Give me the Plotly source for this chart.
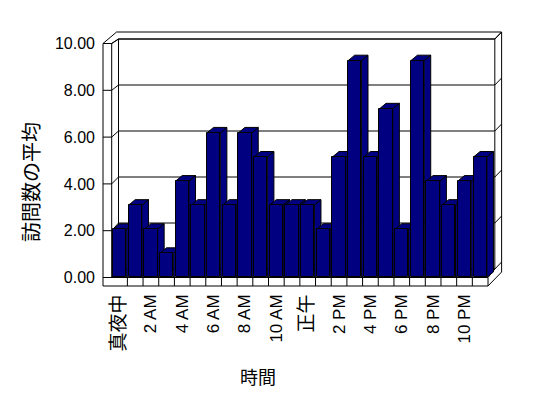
import plotly.graph_objects as go

# ---------------- data ----------------
hours = ["真夜中", "1 AM", "2 AM", "3 AM", "4 AM", "5 AM", "6 AM", "7 AM", "8 AM", "9 AM",
         "10 AM", "11 AM", "正午", "1 PM", "2 PM", "3 PM", "4 PM", "5 PM", "6 PM", "7 PM",
         "8 PM", "9 PM", "10 PM", "11 PM"]
visits = [2, 3, 2, 1, 4, 3, 6, 3, 6, 5, 3, 3, 3, 2, 5, 9, 5, 7, 2, 9, 4, 3, 4, 5]
y_tick_values = [0, 2, 4, 6, 8, 10]
y_tick_labels = ["0.00", "2.00", "4.00", "6.00", "8.00", "10.00"]
x_tick_step = 2
y_title = "訪問数の平均"
x_title = "時間"

# ---------------- geometry / style ----------------
W, H = 548, 398
OFF = 8                                      # page body margin (screen px -> figure px)
S_PL, S_PR, S_PT, S_PB = 96, 510, 24, 290   # plot area (screen px)
CAT_PX = 15.68                              # pixels per category
CAT0_PX = 111.7 - OFF                       # left edge of first category (figure px)
WALL_PX0, WALL_PPU = 277.5 - OFF, 23.4      # wall (axis) scale
BAR_PX0, BAR_PPU = 277.4 - OFF, 24.08       # bar front-face scale (perspective)
PL, PR, PT, PB = S_PL - OFF, S_PR - OFF, S_PT - OFF, S_PB - OFF
NAVY = "#000080"
FONT = "Liberation Sans, Arial, Noto Sans CJK JP, sans-serif"
CJK = "Noto Sans CJK JP, Liberation Sans, sans-serif"

n = len(visits)
ymax = max(y_tick_values)


def xr(px):
    return (px - CAT0_PX) / CAT_PX - 0.5


x_range = [xr(PL), xr(PR)]
y_range = [(WALL_PX0 - PB) / WALL_PPU, (WALL_PX0 - PT) / WALL_PPU]
y2_range = [(BAR_PX0 - PB) / BAR_PPU, (BAR_PX0 - PT) / BAR_PPU]

BW = 0.85
DXB = 6.6 / CAT_PX
DYB = 5.5 / BAR_PPU

XL_OUT = xr(103 - OFF)
XL_IN = -0.5
XR_IN = n - 0.5
DXW = 6.8 / CAT_PX
DYW = 8.5 / WALL_PPU
PS = 23.0 / WALL_PPU
EXT = 7.0 / WALL_PPU
FLOOR = 8.5 / WALL_PPU


def back(v):
    return DYW + PS * v


def outer(v):
    return back(v) + EXT


fig = go.Figure()

# 3D side / top faces of the columns (bar scale, drawn left to right)
for i, v in enumerate(visits):
    L, R = i - BW / 2, i + BW / 2
    fig.add_trace(go.Scatter(
        x=[R, R + DXB, R + DXB, R, R], y=[0, DYB, v + DYB, v, 0],
        mode="lines", fill="toself", fillcolor=NAVY,
        line=dict(color="black", width=1), hoverinfo="skip", showlegend=False,
        xaxis="x2", yaxis="y2"))
    fig.add_trace(go.Scatter(
        x=[L, R, R + DXB, L + DXB, L], y=[v, v, v + DYB, v + DYB, v],
        mode="lines", fill="toself", fillcolor=NAVY,
        line=dict(color="black", width=1), hoverinfo="skip", showlegend=False,
        xaxis="x2", yaxis="y2"))

# front faces of the columns
fig.add_trace(go.Bar(
    x=list(range(n)), y=visits, width=BW, customdata=hours,
    marker=dict(color=NAVY, line=dict(color="black", width=1)),
    hovertemplate="%{customdata}: %{y:.2f}<extra></extra>",
    showlegend=False, xaxis="x3", yaxis="y3"))

# ---------------- walls / floor ----------------
shapes = []
ln = dict(color="black", width=1)


def seg(pts, close=False):
    d = "M " + " L ".join(f"{x},{y}" for x, y in pts)
    if close:
        d += " Z"
    shapes.append(dict(type="path", path=d, xref="x", yref="y", line=ln,
                       fillcolor="rgba(0,0,0,0)", layer="below"))


# back wall face
seg([(XL_IN + DXW, back(0)), (XR_IN + DXW, back(0)), (XR_IN + DXW, back(ymax)),
     (XL_IN + DXW, back(ymax))], close=True)
# gridlines: left wall front, left wall inner face, back wall, right edge
for v in y_tick_values:
    seg([(XL_OUT, v), (XL_IN, v), (XL_IN + DXW, back(v)), (XR_IN + DXW, back(v)),
         (XR_IN + 2 * DXW, outer(v))])
# left wall
seg([(XL_OUT, -FLOOR), (XL_OUT, ymax), (XL_IN, ymax), (XL_IN, 0)])
seg([(XL_IN, 0), (XL_IN + DXW, back(0)), (XL_IN + DXW, back(ymax))])
# top edge of walls
seg([(XL_OUT, ymax), (XL_OUT + 2 * DXW, outer(ymax)), (XR_IN + 2 * DXW, outer(ymax)),
     (XR_IN + DXW, back(ymax))])
seg([(XL_IN, ymax), (XL_IN + DXW, back(ymax))])
# right side of back wall + floor
seg([(XR_IN + 2 * DXW, outer(ymax)), (XR_IN + 2 * DXW, -FLOOR + 2 * EXT),
     (XR_IN, -FLOOR)])
seg([(XR_IN, 0), (XR_IN + DXW, back(0))])
# floor front face with category dividers
seg([(XL_OUT, -FLOOR), (XR_IN, -FLOOR), (XR_IN, 0), (XL_OUT, 0)])
for k in range(1, n):
    seg([(k - 0.5, 0), (k - 0.5, -FLOOR)])

# ---------------- layout ----------------
tick_idx = list(range(0, n, x_tick_step))


def tick_text(label):
    # CJK labels are drawn a little larger, as in the original
    if any(ord(c) > 0x2E80 for c in label):
        return f"<span style='font-size:19px'>{label}</span>"
    return label


def px_to_paper_x(px):
    return (px - OFF - PL) / (PR - PL)


def px_to_paper_y(py):
    return (PB - (py - OFF)) / (PB - PT)


fig.update_layout(
    width=W, height=H,
    margin=dict(l=PL, r=W - PR, t=PT, b=H - PB, autoexpand=False),
    paper_bgcolor="white", plot_bgcolor="white",
    showlegend=False, bargap=0,
    shapes=shapes,
    xaxis=dict(range=x_range, tickmode="array", tickvals=tick_idx,
               ticktext=[tick_text(hours[i]) for i in tick_idx], tickangle=-90,
               showgrid=False, zeroline=False, showline=False, ticks="",
               tickfont=dict(family=FONT, size=17, color="black"), fixedrange=True),
    yaxis=dict(range=y_range, tickmode="array", tickvals=y_tick_values,
               ticktext=y_tick_labels, showgrid=False, zeroline=False,
               showline=False, ticks="",
               tickfont=dict(family=FONT, size=16, color="black"), fixedrange=True),
    xaxis2=dict(overlaying="x", range=x_range, visible=False, fixedrange=True),
    yaxis2=dict(overlaying="y", range=y2_range, visible=False, fixedrange=True),
    xaxis3=dict(overlaying="x", range=x_range, visible=False, fixedrange=True),
    yaxis3=dict(overlaying="y", range=y2_range, visible=False, fixedrange=True),
    annotations=[
        dict(text=x_title, xref="paper", yref="paper", x=px_to_paper_x(258),
             y=px_to_paper_y(376), showarrow=False, xanchor="center", yanchor="middle",
             font=dict(family=CJK, size=18, color="black")),
        dict(text=y_title, xref="paper", yref="paper", x=px_to_paper_x(30),
             y=px_to_paper_y(182), showarrow=False, xanchor="center", yanchor="middle",
             textangle=-90, font=dict(family=CJK, size=20, color="black")),
    ],
)

fig.write_html("out.html")
